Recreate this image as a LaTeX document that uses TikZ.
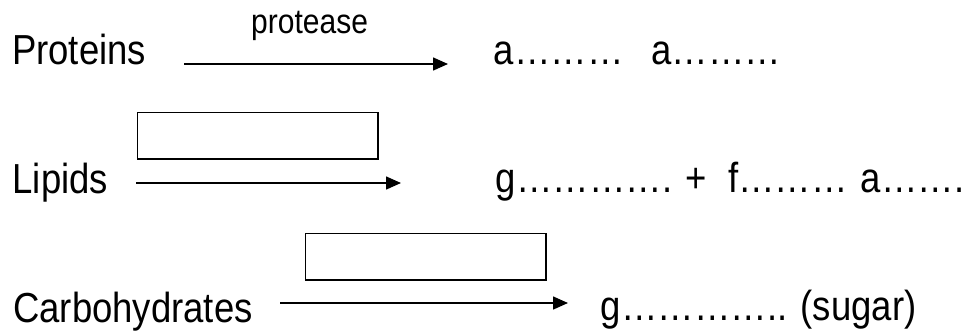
\documentclass[tikz,border=0pt]{standalone}
\usepackage{graphicx}
\usepackage{fontspec}
\setmainfont{Liberation Sans}
\usetikzlibrary{arrows.meta}
\newcommand{\vstretch}[1]{\scalebox{1}[1.15]{#1}}
\begin{document}
\begin{tikzpicture}[x=1pt,y=-1pt,
  lbl/.style={anchor=base west, inner sep=0pt, font=\fontsize{36.5}{44}\selectfont},
  enz/.style={anchor=base west, inner sep=0pt, font=\fontsize{30}{36}\selectfont},
  blank/.style={draw, line width=1.5pt, minimum width=240.5pt, minimum height=46.5pt, inner sep=0pt, anchor=north west},
  react/.style={line width=1.5pt, -{Triangle[length=15pt,width=13pt]}}]
\useasboundingbox (0,0) rectangle (973,333);
% Row 1
\node[lbl] (prot) at (12,64) {\vstretch{Proteins}};
\node[enz] (protease) at (251,33) {\vstretch{protease}};
\coordinate (p1) at (184,64);
\coordinate (p2) at (448,64);
\draw[react] (p1) -- (p2);
\node[lbl] (aa) at (493.5,64) {\vstretch{a………\hspace{28pt}a………}};
% Row 2
\node[blank] (box1) at (136.75,111.75) {};
\node[lbl] (lip) at (12.5,193) {\vstretch{Lipids}};
\coordinate (l1) at (136,183);
\coordinate (l2) at (401,183);
\draw[react] (l1) -- (l2);
\node[lbl] (gf) at (495.5,192) {\vstretch{g………….\hspace{13pt}+\hspace{21.7pt}f………\hspace{13pt}a…….}};
% Row 3
\node[blank] (box2) at (304.75,232.75) {};
\node[lbl] (carb) at (13,322) {\vstretch{Carbohydrates}};
\coordinate (c1) at (280,303);
\coordinate (c2) at (568,303);
\draw[react] (c1) -- (c2);
\node[lbl] (gs) at (600.5,320) {\vstretch{g………….. (sugar)}};
\end{tikzpicture}
\end{document}
